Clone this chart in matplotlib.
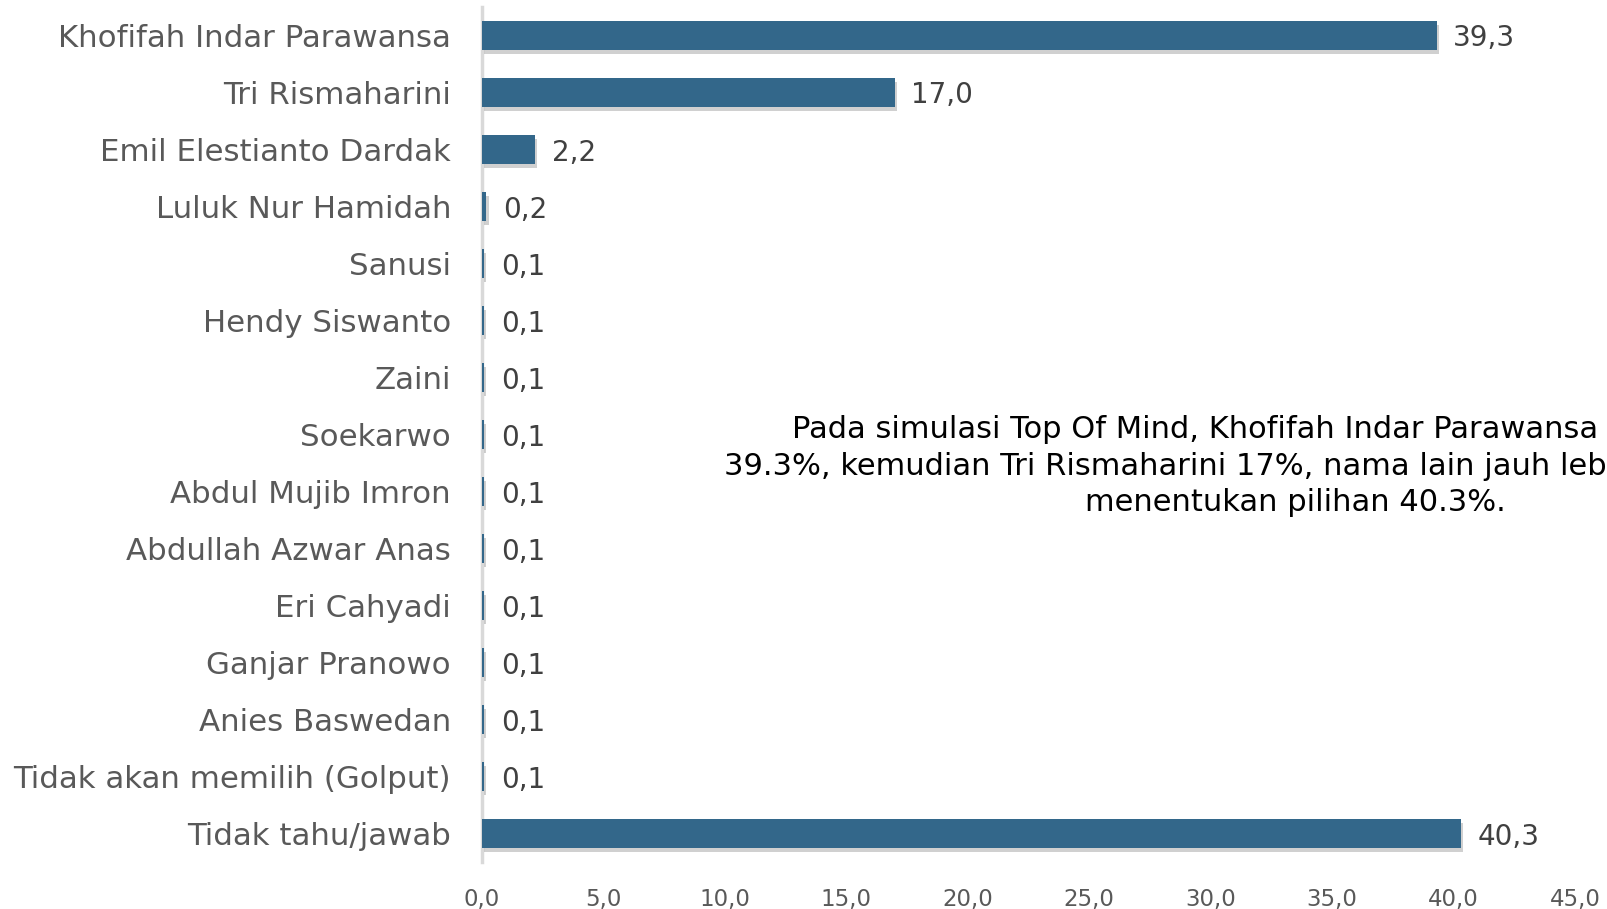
import numpy as np
import matplotlib
matplotlib.use('Agg')
import matplotlib.pyplot as plt
import matplotlib.patheffects as pe

plt.rcParams['font.family'] = ['DejaVu Sans']

# ── Data ───────────────────────────────────────────────────────────────
names = ['Khofifah Indar Parawansa', 'Tri Rismaharini', 'Emil Elestianto Dardak',
         'Luluk Nur Hamidah', 'Sanusi', 'Hendy Siswanto', 'Zaini', 'Soekarwo',
         'Abdul Mujib Imron', 'Abdullah Azwar Anas', 'Eri Cahyadi',
         'Ganjar Pranowo', 'Anies Baswedan', 'Tidak akan memilih (Golput)',
         'Tidak tahu/jawab']
values = [39.3, 17.0, 2.2, 0.2, 0.1, 0.1, 0.1, 0.1, 0.1, 0.1, 0.1, 0.1, 0.1, 0.1, 40.3]
xticks = [0, 5, 10, 15, 20, 25, 30, 35, 40, 45]
note = ('Pada simulasi Top Of Mind, Khofifah Indar Parawansa paling tinggi\n'
        '39.3%, kemudian Tri Rismaharini 17%, nama lain jauh lebih rendah, belum\n'
        'menentukan pilihan 40.3%.')

BAR = '#33678a'

fig = plt.figure(figsize=(16.07, 9.09), dpi=100)
ax = fig.add_axes([0.2997, 0.0517, 0.6804, 0.9406])

y = np.arange(len(names))
bars = ax.barh(y, values, height=0.5, color=BAR, zorder=3)
for b in bars:
    b.set_path_effects([pe.SimplePatchShadow(offset=(1.5, -3), shadow_rgbFace='#8a8a8a', alpha=0.4),
                        pe.Normal()])

for yi, v in zip(y, values):
    ax.annotate(f'{v:.1f}'.replace('.', ','), xy=(v, yi), xytext=(12, 0),
                textcoords='offset points', va='center_baseline', ha='left',
                fontsize=20, color='#404040')

ax.set_xlim(0, 45)
ax.set_ylim(14.5, -0.5)
ax.set_xticks(xticks)
ax.set_xticklabels([f'{t:.1f}'.replace('.', ',') for t in xticks], fontsize=16.5, color='#595959')
ax.set_yticks(y)
ax.set_yticklabels(names, fontsize=22.2, color='#595959')
ax.tick_params(axis='both', length=0)
ax.tick_params(axis='x', pad=19)
ax.tick_params(axis='y', pad=22)

for s in ['top', 'right', 'bottom']:
    ax.spines[s].set_visible(False)
ax.spines['left'].set_color('#d9d9d9')
ax.spines['left'].set_linewidth(2.5)

# note box is cut by the right edge in the original slide, keep it that way
fig.text(0.806, 0.487, note, ha='center', va='center', multialignment='center',
         fontsize=22, color='black', linespacing=1.32)

fig.savefig('out.png', dpi=100)
